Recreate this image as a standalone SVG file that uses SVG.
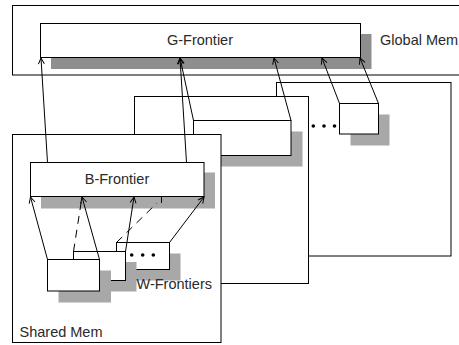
<svg xmlns="http://www.w3.org/2000/svg" width="459" height="345" viewBox="0 0 459 345">
<style>
.box{fill:#fff;stroke:#000;stroke-width:1}
.sh{fill:#a8a8a8;stroke:none}
.shd{fill:#8e8e8e;stroke:none}
.lbl{font-family:"Liberation Sans",Arial,sans-serif;font-size:14.5px;fill:#2a2a2a}
.dot{fill:#000}
.arr{fill:none;stroke:#000;stroke-width:1;marker-end:url(#ah)}
.dash{fill:none;stroke:#000;stroke-width:1;stroke-dasharray:8,6}
</style>
<defs>
<marker id="ah" markerUnits="userSpaceOnUse" markerWidth="12" markerHeight="12" refX="0" refY="0" viewBox="-8 -6 12 12" orient="auto" overflow="visible">
<path d="M-6,-3 L0,0 L-6,3" fill="none" stroke="#000" stroke-width="1"/>
</marker>
</defs>
<rect width="459" height="345" fill="#fff"/>
<g id="global-mem">
<rect class="box" x="12.5" y="5.5" width="450" height="69.5"/>
<text class="lbl" x="380" y="44.5">Global Mem</text>
</g>
<g id="g-frontier">
<rect class="shd" x="51" y="34" width="320.5" height="35"/>
<rect class="box" x="40.5" y="23.5" width="320" height="34"/>
<text class="lbl" x="200" y="45" text-anchor="middle">G-Frontier</text>
</g>
<g id="shared-mem-3">
<rect class="box" x="276.5" y="82.5" width="174.5" height="173.5"/>
</g>
<g id="block-3">
<rect class="sh" x="350.5" y="114.5" width="39" height="31"/>
<rect class="box" x="339.5" y="103.5" width="39" height="30.5"/>
</g>
<g id="dots-blocks">
<circle class="dot" cx="313.3" cy="126" r="1.8"/>
<circle class="dot" cx="324" cy="126" r="1.8"/>
<circle class="dot" cx="334.5" cy="126" r="1.8"/>
</g>
<g id="shared-mem-2">
<rect class="box" x="134.5" y="96.5" width="174" height="187"/>
</g>
<g id="block-2">
<rect class="sh" x="204.5" y="131.5" width="98" height="35"/>
<rect class="box" x="193.5" y="120.5" width="97.5" height="35"/>
</g>
<g id="shared-mem-1">
<rect class="box" x="12.5" y="134.5" width="208.5" height="208"/>
<text class="lbl" x="19.5" y="337">Shared Mem</text>
</g>
<g id="b-frontier">
<rect class="sh" x="41" y="172.5" width="174" height="36"/>
<rect class="box" x="30.5" y="162.5" width="173.5" height="34"/>
<text class="lbl" x="117" y="183.5" text-anchor="middle">B-Frontier</text>
</g>
<g id="w-frontier-3">
<rect class="sh" x="128" y="253.5" width="52.5" height="27"/>
<rect class="box" x="116.5" y="242.5" width="53" height="27"/>
<circle class="dot" cx="131.7" cy="255" r="1.8"/>
<circle class="dot" cx="142.7" cy="255" r="1.8"/>
<circle class="dot" cx="153.3" cy="255" r="1.8"/>
</g>
<g id="w-frontier-2">
<rect class="sh" x="84.5" y="262" width="52" height="29.5"/>
<rect class="box" x="73.5" y="251.5" width="52" height="29"/>
</g>
<g id="w-frontier-1">
<rect class="sh" x="58.5" y="270.5" width="52.5" height="32"/>
<rect class="box" x="47.5" y="259.5" width="52" height="31.5"/>
</g>
<g id="w-frontiers-label">
<text class="lbl" x="136.5" y="289">W-Frontiers</text>
</g>
<g id="connectors">
<line class="arr" x1="47.5" y1="162.5" x2="41" y2="58"/>
<line class="arr" x1="186.5" y1="162.5" x2="180" y2="58"/>
<line class="arr" x1="193.5" y1="120.5" x2="180" y2="58"/>
<line class="arr" x1="291" y1="120.5" x2="274" y2="58"/>
<line class="arr" x1="339.5" y1="103.5" x2="322" y2="58"/>
<line class="arr" x1="378.5" y1="103.5" x2="360" y2="58"/>
<line class="arr" x1="47.5" y1="259.5" x2="30.5" y2="197"/>
<line class="arr" x1="99.5" y1="259.5" x2="82" y2="197"/>
<line class="dash" x1="73.5" y1="251.5" x2="82" y2="197"/>
<line class="arr" x1="125.5" y1="251.5" x2="134" y2="197"/>
<line class="dash" x1="116.5" y1="242.5" x2="157" y2="203"/>
<line fill="none" stroke="#000" x1="161.5" y1="197" x2="161.5" y2="203"/>
<line class="arr" x1="169.5" y1="242.5" x2="204" y2="197"/>
</g>
</svg>
